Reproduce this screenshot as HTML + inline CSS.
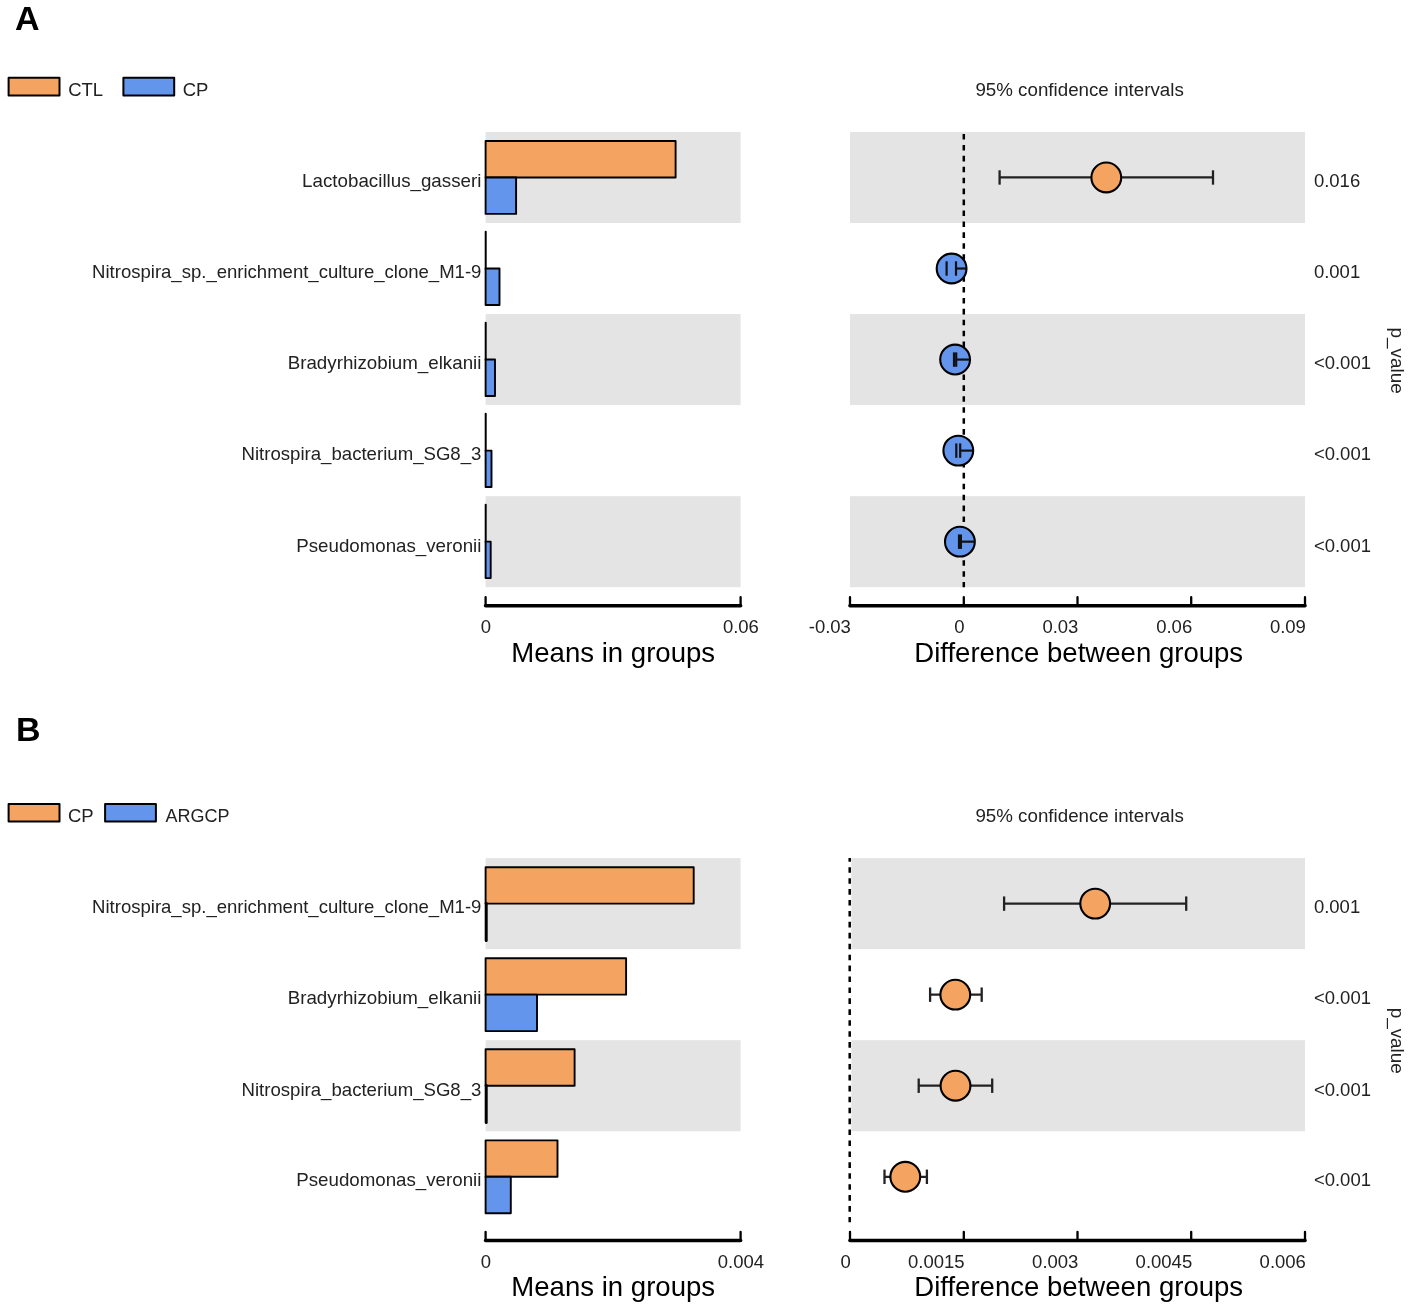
<!DOCTYPE html><html><head><meta charset="utf-8"><title>STAMP extended error bar plots</title><style>html,body{margin:0;padding:0;background:#fff;overflow:hidden;}svg{display:block;will-change:transform;}text{font-family:"Liberation Sans",sans-serif;}</style></head><body>
<svg width="1413" height="1309" viewBox="0 0 1413 1309">
<rect width="1413" height="1309" fill="#fff"/>
<text x="14.95" y="29.8" font-size="34" font-weight="bold" fill="#000">A</text>
<rect x="8.6" y="77.7" width="50.9" height="17.7" fill="#F4A460" stroke="#000" stroke-width="2" stroke-linejoin="round"/>
<text x="68.2" y="95.9" font-size="18.5" fill="#222">CTL</text>
<rect x="123.4" y="77.7" width="50.8" height="17.7" fill="#6495ED" stroke="#000" stroke-width="2" stroke-linejoin="round"/>
<text x="182.7" y="95.9" font-size="18.5" fill="#222">CP</text>
<text x="1079.6" y="96.00" font-size="19.2" fill="#222" text-anchor="middle" textLength="208.4" lengthAdjust="spacingAndGlyphs">95% confidence intervals</text>
<rect x="485.6" y="131.95" width="255.0" height="91.05" fill="#E4E4E4"/>
<rect x="850.0" y="131.95" width="455.0" height="91.05" fill="#E4E4E4"/>
<rect x="485.6" y="314.05" width="255.0" height="91.05" fill="#E4E4E4"/>
<rect x="850.0" y="314.05" width="455.0" height="91.05" fill="#E4E4E4"/>
<rect x="485.6" y="496.15" width="255.0" height="91.05" fill="#E4E4E4"/>
<rect x="850.0" y="496.15" width="455.0" height="91.05" fill="#E4E4E4"/>
<path d="M963.8 133.95V139.55M963.8 144.88V150.48M963.8 155.81V161.41M963.8 166.74V172.34M963.8 177.67V183.27M963.8 188.60V194.20M963.8 199.53V205.13M963.8 210.46V216.06M963.8 221.39V226.99M963.8 232.32V237.92M963.8 243.25V248.85M963.8 254.18V259.78M963.8 265.11V270.71M963.8 276.04V281.64M963.8 286.97V292.57M963.8 297.90V303.50M963.8 308.83V314.43M963.8 319.76V325.36M963.8 330.69V336.29M963.8 341.62V347.22M963.8 352.55V358.15M963.8 363.48V369.08M963.8 374.41V380.01M963.8 385.34V390.94M963.8 396.27V401.87M963.8 407.20V412.80M963.8 418.13V423.73M963.8 429.06V434.66M963.8 439.99V445.59M963.8 450.92V456.52M963.8 461.85V467.45M963.8 472.78V478.38M963.8 483.71V489.31M963.8 494.64V500.24M963.8 505.57V511.17M963.8 516.50V522.10M963.8 527.43V533.03M963.8 538.36V543.96M963.8 549.29V554.89M963.8 560.22V565.82M963.8 571.15V576.75M963.8 582.08V587.20" stroke="#000" stroke-width="2.5" fill="none"/>
<text x="481.4" y="186.92" font-size="18.5" fill="#222" text-anchor="end" textLength="179.29" lengthAdjust="spacingAndGlyphs">Lactobacillus_gasseri</text>
<rect x="485.6" y="141.06" width="190.0" height="36.42" fill="#F4A460" stroke="#000" stroke-width="1.9" stroke-linejoin="round"/>
<rect x="485.6" y="177.47" width="30.5" height="36.42" fill="#6495ED" stroke="#000" stroke-width="1.9" stroke-linejoin="round"/>
<line x1="999.6" y1="177.47" x2="1213.0" y2="177.47" stroke="#222" stroke-width="2.3"/>
<line x1="999.6" y1="170.28" x2="999.6" y2="184.67" stroke="#222" stroke-width="2.3"/>
<line x1="1213.0" y1="170.28" x2="1213.0" y2="184.67" stroke="#222" stroke-width="2.3"/>
<circle cx="1106.3" cy="177.47" r="14.9" fill="#F4A460" stroke="#000" stroke-width="2.1"/>
<text x="1313.9" y="186.92" font-size="18.5" fill="#222">0.016</text>
<text x="481.4" y="278.17" font-size="18.5" fill="#222" text-anchor="end" textLength="389.30" lengthAdjust="spacingAndGlyphs">Nitrospira_sp._enrichment_culture_clone_M1-9</text>
<line x1="485.7" y1="231.70" x2="485.7" y2="268.92" stroke="#000" stroke-width="2.0" stroke-linecap="round"/>
<rect x="485.6" y="268.52" width="13.9" height="36.42" fill="#6495ED" stroke="#000" stroke-width="1.9" stroke-linejoin="round"/>
<line x1="946.6" y1="268.52" x2="956.0" y2="268.52" stroke="#222" stroke-width="2.3"/>
<line x1="946.6" y1="261.32" x2="946.6" y2="275.72" stroke="#222" stroke-width="2.3"/>
<line x1="956.0" y1="261.32" x2="956.0" y2="275.72" stroke="#222" stroke-width="2.3"/>
<circle cx="951.6" cy="268.52" r="14.9" fill="#6495ED" stroke="#000" stroke-width="2.1"/>
<line x1="946.6" y1="261.32" x2="946.6" y2="275.72" stroke="#111" stroke-width="2.2"/>
<line x1="956.0" y1="261.32" x2="956.0" y2="275.72" stroke="#111" stroke-width="2.2"/>
<line x1="956.0" y1="268.52" x2="966.6" y2="268.52" stroke="#111" stroke-width="2.2"/>
<text x="1313.9" y="278.17" font-size="18.5" fill="#222">0.001</text>
<text x="481.4" y="369.12" font-size="18.5" fill="#222" text-anchor="end" textLength="193.67" lengthAdjust="spacingAndGlyphs">Bradyrhizobium_elkanii</text>
<line x1="485.7" y1="322.75" x2="485.7" y2="359.97" stroke="#000" stroke-width="2.0" stroke-linecap="round"/>
<rect x="485.6" y="359.57" width="9.4" height="36.42" fill="#6495ED" stroke="#000" stroke-width="1.9" stroke-linejoin="round"/>
<line x1="954.0" y1="359.57" x2="956.2" y2="359.57" stroke="#222" stroke-width="2.3"/>
<line x1="954.0" y1="352.37" x2="954.0" y2="366.77" stroke="#222" stroke-width="2.3"/>
<line x1="956.2" y1="352.37" x2="956.2" y2="366.77" stroke="#222" stroke-width="2.3"/>
<circle cx="955.1" cy="359.57" r="14.9" fill="#6495ED" stroke="#000" stroke-width="2.1"/>
<line x1="954.0" y1="352.37" x2="954.0" y2="366.77" stroke="#111" stroke-width="2.2"/>
<line x1="956.2" y1="352.37" x2="956.2" y2="366.77" stroke="#111" stroke-width="2.2"/>
<line x1="956.2" y1="359.57" x2="970.1" y2="359.57" stroke="#111" stroke-width="2.2"/>
<text x="1313.9" y="369.12" font-size="18.5" fill="#222">&lt;0.001</text>
<text x="481.4" y="459.87" font-size="18.5" fill="#222" text-anchor="end" textLength="239.86" lengthAdjust="spacingAndGlyphs">Nitrospira_bacterium_SG8_3</text>
<line x1="485.7" y1="413.80" x2="485.7" y2="451.02" stroke="#000" stroke-width="2.0" stroke-linecap="round"/>
<rect x="485.6" y="450.62" width="5.9" height="36.42" fill="#6495ED" stroke="#000" stroke-width="1.9" stroke-linejoin="round"/>
<line x1="956.3" y1="450.62" x2="960.2" y2="450.62" stroke="#222" stroke-width="2.3"/>
<line x1="956.3" y1="443.42" x2="956.3" y2="457.82" stroke="#222" stroke-width="2.3"/>
<line x1="960.2" y1="443.42" x2="960.2" y2="457.82" stroke="#222" stroke-width="2.3"/>
<circle cx="958.3" cy="450.62" r="14.9" fill="#6495ED" stroke="#000" stroke-width="2.1"/>
<line x1="956.3" y1="443.42" x2="956.3" y2="457.82" stroke="#111" stroke-width="2.2"/>
<line x1="960.2" y1="443.42" x2="960.2" y2="457.82" stroke="#111" stroke-width="2.2"/>
<line x1="960.2" y1="450.62" x2="973.3" y2="450.62" stroke="#111" stroke-width="2.2"/>
<text x="1313.9" y="459.87" font-size="18.5" fill="#222">&lt;0.001</text>
<text x="481.4" y="551.92" font-size="18.5" fill="#222" text-anchor="end" textLength="185.16" lengthAdjust="spacingAndGlyphs">Pseudomonas_veronii</text>
<line x1="485.7" y1="504.85" x2="485.7" y2="542.07" stroke="#000" stroke-width="2.0" stroke-linecap="round"/>
<rect x="485.6" y="541.67" width="5.1" height="36.42" fill="#6495ED" stroke="#000" stroke-width="1.9" stroke-linejoin="round"/>
<line x1="959.0" y1="541.67" x2="960.9" y2="541.67" stroke="#222" stroke-width="2.3"/>
<line x1="959.0" y1="534.47" x2="959.0" y2="548.88" stroke="#222" stroke-width="2.3"/>
<line x1="960.9" y1="534.47" x2="960.9" y2="548.88" stroke="#222" stroke-width="2.3"/>
<circle cx="959.9" cy="541.67" r="14.9" fill="#6495ED" stroke="#000" stroke-width="2.1"/>
<line x1="959.0" y1="534.47" x2="959.0" y2="548.88" stroke="#111" stroke-width="2.2"/>
<line x1="960.9" y1="534.47" x2="960.9" y2="548.88" stroke="#111" stroke-width="2.2"/>
<line x1="960.9" y1="541.67" x2="974.9" y2="541.67" stroke="#111" stroke-width="2.2"/>
<text x="1313.9" y="551.92" font-size="18.5" fill="#222">&lt;0.001</text>
<text transform="translate(1390.7 360.57) rotate(90)" font-size="18.9" fill="#222" text-anchor="middle">p_value</text>
<path d="M485.6 605.77H740.6" fill="none" stroke="#000" stroke-width="3.6" stroke-linecap="round"/>
<path d="M485.6 605.77V597.17M740.6 605.77V597.17" fill="none" stroke="#000" stroke-width="2.3" stroke-linecap="round"/>
<text x="485.8" y="632.97" font-size="18.5" fill="#222" text-anchor="middle">0</text>
<text x="740.9" y="632.97" font-size="18.5" fill="#222" text-anchor="middle">0.06</text>
<text x="613.2" y="661.52" font-size="27.8" fill="#000" text-anchor="middle" textLength="203.8" lengthAdjust="spacingAndGlyphs">Means in groups</text>
<path d="M850.0 605.77H1305.0" fill="none" stroke="#000" stroke-width="3.6" stroke-linecap="round"/>
<path d="M850.0 605.77V597.17M963.8 605.77V597.17M1077.5 605.77V597.17M1191.2 605.77V597.17M1305.0 605.77V597.17" fill="none" stroke="#000" stroke-width="2.3" stroke-linecap="round"/>
<text x="850.9" y="632.97" font-size="18.5" fill="#222" text-anchor="end">-0.03</text>
<text x="964.6" y="632.97" font-size="18.5" fill="#222" text-anchor="end">0</text>
<text x="1078.4" y="632.97" font-size="18.5" fill="#222" text-anchor="end">0.03</text>
<text x="1192.2" y="632.97" font-size="18.5" fill="#222" text-anchor="end">0.06</text>
<text x="1305.9" y="632.97" font-size="18.5" fill="#222" text-anchor="end">0.09</text>
<text x="1078.7" y="661.52" font-size="27.8" fill="#000" text-anchor="middle" textLength="328.9" lengthAdjust="spacingAndGlyphs">Difference between groups</text>
<text x="15.9" y="740.6" font-size="34" font-weight="bold" fill="#000">B</text>
<rect x="8.6" y="803.9" width="50.9" height="17.7" fill="#F4A460" stroke="#000" stroke-width="2" stroke-linejoin="round"/>
<text x="68.0" y="822.1" font-size="18.5" fill="#222">CP</text>
<rect x="105.1" y="803.9" width="50.8" height="17.7" fill="#6495ED" stroke="#000" stroke-width="2" stroke-linejoin="round"/>
<text x="165.4" y="822.1" font-size="18.5" fill="#222" textLength="64.0" lengthAdjust="spacingAndGlyphs">ARGCP</text>
<text x="1079.6" y="822.15" font-size="19.2" fill="#222" text-anchor="middle" textLength="208.4" lengthAdjust="spacingAndGlyphs">95% confidence intervals</text>
<rect x="485.6" y="858.10" width="255.0" height="91.05" fill="#E4E4E4"/>
<rect x="851.3" y="858.10" width="453.7" height="91.05" fill="#E4E4E4"/>
<rect x="485.6" y="1040.20" width="255.0" height="91.05" fill="#E4E4E4"/>
<rect x="851.3" y="1040.20" width="453.7" height="91.05" fill="#E4E4E4"/>
<path d="M849.7 858.10V861.87M849.7 867.20V872.80M849.7 878.13V883.73M849.7 889.06V894.66M849.7 899.99V905.59M849.7 910.92V916.52M849.7 921.85V927.45M849.7 932.78V938.38M849.7 943.71V949.31M849.7 954.64V960.24M849.7 965.57V971.17M849.7 976.50V982.10M849.7 987.43V993.03M849.7 998.36V1003.96M849.7 1009.29V1014.89M849.7 1020.22V1025.82M849.7 1031.15V1036.75M849.7 1042.08V1047.68M849.7 1053.01V1058.61M849.7 1063.94V1069.54M849.7 1074.87V1080.47M849.7 1085.80V1091.40M849.7 1096.73V1102.33M849.7 1107.66V1113.26M849.7 1118.59V1124.19M849.7 1129.52V1135.12M849.7 1140.45V1146.05M849.7 1151.38V1156.98M849.7 1162.31V1167.91M849.7 1173.24V1178.84M849.7 1184.17V1189.77M849.7 1195.10V1200.70M849.7 1206.03V1211.63M849.7 1216.96V1222.30" stroke="#000" stroke-width="2.5" fill="none"/>
<text x="481.4" y="912.67" font-size="18.5" fill="#222" text-anchor="end" textLength="389.30" lengthAdjust="spacingAndGlyphs">Nitrospira_sp._enrichment_culture_clone_M1-9</text>
<rect x="485.6" y="867.20" width="208.1" height="36.42" fill="#F4A460" stroke="#000" stroke-width="1.9" stroke-linejoin="round"/>
<line x1="486.2" y1="903.22" x2="486.2" y2="940.44" stroke="#000" stroke-width="3.0" stroke-linecap="round"/>
<line x1="1004.1" y1="903.62" x2="1186.2" y2="903.62" stroke="#222" stroke-width="2.3"/>
<line x1="1004.1" y1="896.42" x2="1004.1" y2="910.82" stroke="#222" stroke-width="2.3"/>
<line x1="1186.2" y1="896.42" x2="1186.2" y2="910.82" stroke="#222" stroke-width="2.3"/>
<circle cx="1095.2" cy="903.62" r="14.9" fill="#F4A460" stroke="#000" stroke-width="2.1"/>
<text x="1313.9" y="912.67" font-size="18.5" fill="#222">0.001</text>
<text x="481.4" y="1004.07" font-size="18.5" fill="#222" text-anchor="end" textLength="193.67" lengthAdjust="spacingAndGlyphs">Bradyrhizobium_elkanii</text>
<rect x="485.6" y="958.25" width="140.5" height="36.42" fill="#F4A460" stroke="#000" stroke-width="1.9" stroke-linejoin="round"/>
<rect x="485.6" y="994.67" width="51.4" height="36.42" fill="#6495ED" stroke="#000" stroke-width="1.9" stroke-linejoin="round"/>
<line x1="930.1" y1="994.67" x2="981.7" y2="994.67" stroke="#222" stroke-width="2.3"/>
<line x1="930.1" y1="987.47" x2="930.1" y2="1001.87" stroke="#222" stroke-width="2.3"/>
<line x1="981.7" y1="987.47" x2="981.7" y2="1001.87" stroke="#222" stroke-width="2.3"/>
<circle cx="955.3" cy="994.67" r="14.9" fill="#F4A460" stroke="#000" stroke-width="2.1"/>
<text x="1313.9" y="1004.07" font-size="18.5" fill="#222">&lt;0.001</text>
<text x="481.4" y="1095.77" font-size="18.5" fill="#222" text-anchor="end" textLength="239.86" lengthAdjust="spacingAndGlyphs">Nitrospira_bacterium_SG8_3</text>
<rect x="485.6" y="1049.30" width="89.0" height="36.42" fill="#F4A460" stroke="#000" stroke-width="1.9" stroke-linejoin="round"/>
<line x1="486.2" y1="1085.32" x2="486.2" y2="1122.55" stroke="#000" stroke-width="3.0" stroke-linecap="round"/>
<line x1="918.7" y1="1085.72" x2="992.2" y2="1085.72" stroke="#222" stroke-width="2.3"/>
<line x1="918.7" y1="1078.52" x2="918.7" y2="1092.92" stroke="#222" stroke-width="2.3"/>
<line x1="992.2" y1="1078.52" x2="992.2" y2="1092.92" stroke="#222" stroke-width="2.3"/>
<circle cx="955.5" cy="1085.72" r="14.9" fill="#F4A460" stroke="#000" stroke-width="2.1"/>
<text x="1313.9" y="1095.77" font-size="18.5" fill="#222">&lt;0.001</text>
<text x="481.4" y="1186.48" font-size="18.5" fill="#222" text-anchor="end" textLength="185.16" lengthAdjust="spacingAndGlyphs">Pseudomonas_veronii</text>
<rect x="485.6" y="1140.36" width="71.9" height="36.42" fill="#F4A460" stroke="#000" stroke-width="1.9" stroke-linejoin="round"/>
<rect x="485.6" y="1176.78" width="25.2" height="36.42" fill="#6495ED" stroke="#000" stroke-width="1.9" stroke-linejoin="round"/>
<line x1="884.5" y1="1176.78" x2="926.9" y2="1176.78" stroke="#222" stroke-width="2.3"/>
<line x1="884.5" y1="1169.58" x2="884.5" y2="1183.98" stroke="#222" stroke-width="2.3"/>
<line x1="926.9" y1="1169.58" x2="926.9" y2="1183.98" stroke="#222" stroke-width="2.3"/>
<circle cx="905.3" cy="1176.78" r="14.9" fill="#F4A460" stroke="#000" stroke-width="2.1"/>
<text x="1313.9" y="1186.48" font-size="18.5" fill="#222">&lt;0.001</text>
<text transform="translate(1390.7 1040.75) rotate(90)" font-size="18.9" fill="#222" text-anchor="middle">p_value</text>
<path d="M485.6 1240.43H740.6" fill="none" stroke="#000" stroke-width="3.6" stroke-linecap="round"/>
<path d="M485.6 1240.43V1231.8300000000002M740.6 1240.43V1231.8300000000002" fill="none" stroke="#000" stroke-width="2.3" stroke-linecap="round"/>
<text x="485.8" y="1268.03" font-size="18.5" fill="#222" text-anchor="middle">0</text>
<text x="740.9" y="1268.03" font-size="18.5" fill="#222" text-anchor="middle">0.004</text>
<text x="613.2" y="1296.13" font-size="27.8" fill="#000" text-anchor="middle" textLength="203.8" lengthAdjust="spacingAndGlyphs">Means in groups</text>
<path d="M850.0 1240.43H1305.0" fill="none" stroke="#000" stroke-width="3.6" stroke-linecap="round"/>
<path d="M850.0 1240.43V1231.8300000000002M963.8 1240.43V1231.8300000000002M1077.5 1240.43V1231.8300000000002M1191.2 1240.43V1231.8300000000002M1305.0 1240.43V1231.8300000000002" fill="none" stroke="#000" stroke-width="2.3" stroke-linecap="round"/>
<text x="850.9" y="1268.03" font-size="18.5" fill="#222" text-anchor="end">0</text>
<text x="964.6" y="1268.03" font-size="18.5" fill="#222" text-anchor="end">0.0015</text>
<text x="1078.4" y="1268.03" font-size="18.5" fill="#222" text-anchor="end">0.003</text>
<text x="1192.2" y="1268.03" font-size="18.5" fill="#222" text-anchor="end">0.0045</text>
<text x="1305.9" y="1268.03" font-size="18.5" fill="#222" text-anchor="end">0.006</text>
<text x="1078.7" y="1296.13" font-size="27.8" fill="#000" text-anchor="middle" textLength="328.9" lengthAdjust="spacingAndGlyphs">Difference between groups</text>
</svg></body></html>
